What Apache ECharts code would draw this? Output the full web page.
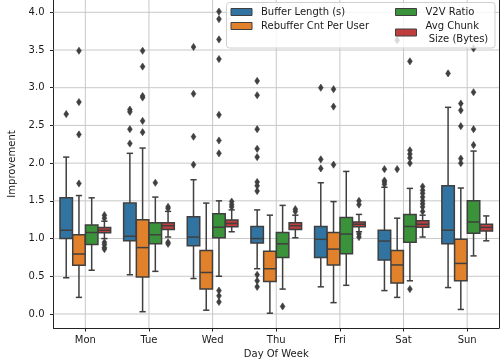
<!DOCTYPE html>
<html><head><meta charset="utf-8">
<script src="https://cdn.jsdelivr.net/npm/echarts@6/dist/echarts.min.js"></script>
<style>html,body{margin:0;padding:0;background:#fff}#c{width:503px;height:364px}</style>
</head><body><div id="c"></div>
<script>
// ---------------- data ----------------
const categories = ['Mon', 'Tue', 'Wed', 'Thu', 'Fri', 'Sat', 'Sun'];
const seriesNames = ['Buffer Length (s)', 'Rebuffer Cnt Per User', 'V2V Ratio', 'Avg Chunk\n Size (Bytes)'];
const yTicks = [0, 0.5, 1.0, 1.5, 2.0, 2.5, 3.0, 3.5, 4.0];

// per day: [lower whisker, Q1, median, Q3, upper whisker]
const bufferBox = [
  [0.48, 1.00, 1.11, 1.54, 2.08],
  [0.52, 0.97, 1.03, 1.47, 2.13],
  [0.47, 0.905, 1.02, 1.29, 1.78],
  [0.60, 0.94, 1.00, 1.16, 1.38],
  [0.36, 0.75, 0.99, 1.16, 1.74],
  [0.31, 0.715, 0.967, 1.11, 1.68],
  [0.35, 0.93, 1.11, 1.70, 2.74]
];
const rebufferBox = [
  [0.22, 0.645, 0.795, 1.05, 1.57],
  [0.03, 0.49, 0.88, 1.25, 2.20],
  [0.05, 0.33, 0.55, 0.84, 1.47],
  [0.01, 0.43, 0.60, 0.83, 1.31],
  [0.15, 0.65, 0.86, 1.08, 1.49],
  [0.22, 0.41, 0.65, 0.84, 1.27],
  [0.06, 0.44, 0.67, 0.99, 1.67]
];
const v2vBox = [
  [0.58, 0.92, 1.08, 1.18, 1.54],
  [0.565, 0.93, 1.05, 1.21, 1.55],
  [0.50, 1.01, 1.15, 1.33, 1.50],
  [0.33, 0.75, 0.93, 1.08, 1.44],
  [0.38, 0.80, 1.06, 1.28, 1.89],
  [0.44, 0.95, 1.16, 1.32, 1.665],
  [0.77, 1.07, 1.22, 1.50, 2.16]
];
const chunkBox = [
  [1.00, 1.077, 1.11, 1.148, 1.23],
  [1.02, 1.12, 1.17, 1.21, 1.36],
  [1.09, 1.157, 1.20, 1.245, 1.38],
  [1.01, 1.12, 1.17, 1.21, 1.31],
  [1.09, 1.157, 1.19, 1.22, 1.32],
  [1.02, 1.15, 1.19, 1.236, 1.31],
  [0.97, 1.10, 1.148, 1.188, 1.30]
];

// outliers per day
const bufferOut = [
  [2.65],
  [2.71, 2.68, 2.45, 2.26],
  [3.54, 2.92, 2.35, 1.98],
  [3.09, 2.90, 2.45, 2.19, 2.08, 1.75, 1.70, 1.63, 0.52, 0.44, 0.36],
  [3.00, 2.05, 1.93],
  [1.92, 1.77, 1.75, 1.72],
  [3.19]
];
const rebufferOut = [
  [3.49, 2.81, 2.38, 1.73],
  [3.49, 3.28, 2.89, 2.87, 2.56, 2.41],
  [],
  [],
  [2.98, 2.75, 1.98],
  [3.63, 1.92],
  [2.79, 2.70, 2.49, 2.06, 2.00]
];
const v2vOut = [
  [],
  [1.74],
  [4.01, 3.91, 3.64, 3.38, 2.64, 2.30, 2.13, 0.31, 0.24, 0.16],
  [0.10],
  [],
  [3.35, 2.17, 2.12, 2.07, 2.00, 0.33],
  [3.52, 2.94, 2.45, 2.24]
];
const chunkOut = [
  [1.31, 1.27, 0.95, 0.92, 0.88, 0.86],
  [1.42, 1.40, 0.95, 0.93],
  [1.49, 1.45, 1.42],
  [1.39, 1.36],
  [1.50, 1.45, 1.06, 1.02],
  [1.69, 1.64, 1.60, 1.55, 1.50, 1.46, 1.42, 1.36],
  []
];

// ---------------- styling ----------------
const colors = ['#3274a1', '#e1812c', '#3a923a', '#c03d3e'];
const EDGE = '#3f3f3f';
const FONT = 'DejaVu Sans';
const TXT = '#1a1a1a';
const Y_MIN = -0.186, Y_MAX = 4.163;

const boxes = [bufferBox, rebufferBox, v2vBox, chunkBox];
const outs = [bufferOut, rebufferOut, v2vOut, chunkOut];

function hueX(api, ci, h) {
  const bw = api.size([1, 0])[0];
  const x0 = api.coord([ci, 0])[0];
  return { cx: x0 + (h - 1.5) * 0.2 * bw, bw: bw };
}

function boxRender(h) {
  return function (params, api) {
    const ci = api.value(0);
    const p = hueX(api, ci, h);
    const cx = p.cx;
    const w = 0.2 * p.bw * 0.98;
    const cap = w * 0.25;
    const yl = api.coord([ci, api.value(1)])[1];
    const y1 = api.coord([ci, api.value(2)])[1];
    const ym = api.coord([ci, api.value(3)])[1];
    const y3 = api.coord([ci, api.value(4)])[1];
    const yh = api.coord([ci, api.value(5)])[1];
    const st = { stroke: EDGE, lineWidth: 1.5, fill: null };
    return {
      type: 'group',
      children: [
        { type: 'line', shape: { x1: cx, y1: y1, x2: cx, y2: yl }, style: st },
        { type: 'line', shape: { x1: cx - cap, y1: yl, x2: cx + cap, y2: yl }, style: st },
        { type: 'line', shape: { x1: cx, y1: y3, x2: cx, y2: yh }, style: st },
        { type: 'line', shape: { x1: cx - cap, y1: yh, x2: cx + cap, y2: yh }, style: st },
        { type: 'rect', shape: { x: cx - w / 2, y: y3, width: w, height: y1 - y3 },
          style: { fill: colors[h], stroke: EDGE, lineWidth: 1.5 } },
        { type: 'line', shape: { x1: cx - w / 2, y1: ym, x2: cx + w / 2, y2: ym }, style: st }
      ]
    };
  };
}

function outRender(h) {
  return function (params, api) {
    const ci = api.value(0);
    const p = hueX(api, ci, h);
    const y = api.coord([ci, api.value(1)])[1];
    const cx = p.cx, dx = 2.4, dy = 3.6;
    return {
      type: 'polygon',
      shape: { points: [[cx, y - dy], [cx + dx, y], [cx, y + dy], [cx - dx, y]] },
      style: { fill: EDGE, stroke: EDGE, lineWidth: 0.6 }
    };
  };
}

const series = [];
// horizontal grid lines
series.push({
  type: 'custom', name: '_hgrid', silent: true, z: 1,
  data: yTicks.map(v => [0, v]),
  encode: { x: 0, y: 1 },
  renderItem: function (params, api) {
    const cs = params.coordSys;
    const y = api.coord([0, api.value(1)])[1];
    return { type: 'line', shape: { x1: cs.x, y1: y, x2: cs.x + cs.width, y2: y },
      style: { stroke: '#c8c8c8', lineWidth: 1 } };
  }
});
// vertical grid lines
series.push({
  type: 'custom', name: '_vgrid', silent: true, z: 1,
  data: categories.map((c, i) => [i, 0]),
  encode: { x: 0, y: 1 },
  renderItem: function (params, api) {
    const cs = params.coordSys;
    const x = api.coord([api.value(0), 0])[0];
    return { type: 'line', shape: { x1: x, y1: cs.y, x2: x, y2: cs.y + cs.height },
      style: { stroke: '#c8c8c8', lineWidth: 1 } };
  }
});
for (let h = 0; h < 4; h++) {
  series.push({
    type: 'custom', name: seriesNames[h], z: 3,
    itemStyle: { color: colors[h], borderColor: EDGE, borderWidth: 1 },
    data: boxes[h].map((b, i) => [i].concat(b)),
    encode: { x: 0, y: [1, 2, 3, 4, 5] },
    renderItem: boxRender(h)
  });
  const od = [];
  outs[h].forEach((arr, i) => arr.forEach(v => od.push([i, v])));
  series.push({
    type: 'custom', name: seriesNames[h] + ' outliers', z: 4,
    data: od,
    encode: { x: 0, y: 1 },
    renderItem: outRender(h)
  });
}

const legendText = { fontFamily: FONT, fontSize: 10, color: TXT, lineHeight: 13, padding: [0, 0, 0, 4] };
const legendItem = (i) => ({ name: seriesNames[i], icon: 'rect',
  itemStyle: { color: colors[i], borderColor: EDGE, borderWidth: 1 } });

const option = {
  animation: false,
  backgroundColor: '#fff',
  grid: { left: 53.5, right: 4, top: 0, bottom: 36, containLabel: false, outerBoundsMode: 'none' },
  xAxis: {
    type: 'category', data: categories, boundaryGap: true,
    name: 'Day Of Week', nameLocation: 'middle', nameGap: 21,
    nameTextStyle: { fontFamily: FONT, fontSize: 10, color: TXT },
    axisLine: { show: true, onZero: false, lineStyle: { color: '#222', width: 1 } },
    axisTick: { show: true, alignWithLabel: true, length: 3.5, lineStyle: { color: '#222' } },
    axisLabel: { fontFamily: FONT, fontSize: 10, color: TXT, margin: 7 },
    splitLine: { show: false }
  },
  yAxis: [{
    type: 'value', min: Y_MIN, max: Y_MAX,
    name: 'Improvement', nameLocation: 'middle', nameGap: 25, nameRotate: 90,
    nameTextStyle: { fontFamily: FONT, fontSize: 10, color: TXT },
    axisLine: { show: true, onZero: false, lineStyle: { color: '#222', width: 1 } },
    axisTick: { show: true, length: 3.5, customValues: yTicks, lineStyle: { color: '#222' } },
    axisLabel: { fontFamily: FONT, fontSize: 10, color: TXT, margin: 9, customValues: yTicks,
      formatter: v => v.toFixed(1) },
    splitLine: { show: false }
  }, {
    type: 'value', min: Y_MIN, max: Y_MAX, position: 'right',
    axisLine: { show: true, onZero: false, lineStyle: { color: '#222', width: 1 } },
    axisTick: { show: false }, axisLabel: { show: false }, splitLine: { show: false }
  }],
  legend: [{
    orient: 'vertical', left: 230.5, top: 5.5, padding: 0, itemGap: 1,
    itemWidth: 21, itemHeight: 7, z: 60, selectedMode: false,
    textStyle: legendText,
    data: [legendItem(0), legendItem(1)]
  }, {
    orient: 'vertical', left: 395, top: 5.5, padding: 0, itemGap: 1,
    itemWidth: 21, itemHeight: 7, z: 60, selectedMode: false,
    textStyle: legendText,
    data: [legendItem(2), legendItem(3)]
  }],
  graphic: [{
    type: 'rect', z: 50, silent: true,
    shape: { x: 226.5, y: 2.5, width: 268.5, height: 45.5, r: 3 },
    style: { fill: 'rgba(255,255,255,0.8)', stroke: '#d0d0d0', lineWidth: 1 }
  }],
  series: series
};
const chart = echarts.init(document.getElementById('c'));
chart.setOption(option);
</script></body></html>
